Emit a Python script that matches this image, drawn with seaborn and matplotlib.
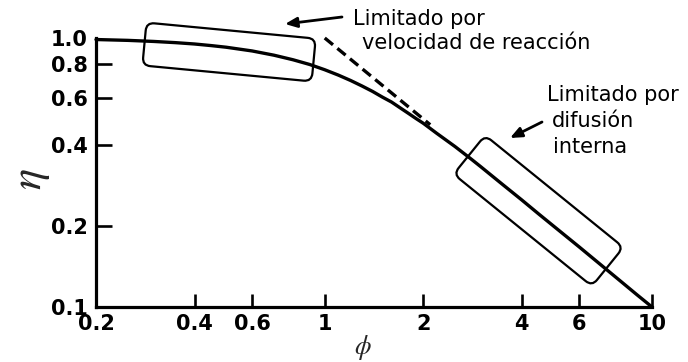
import numpy as np
import matplotlib
matplotlib.use("Agg")
import matplotlib.pyplot as plt
from matplotlib.patches import FancyBboxPatch
from matplotlib.transforms import Affine2D
import seaborn as sns

# Effectiveness factor versus Thiele modulus
phi = [0.2, 0.25, 0.3, 0.35, 0.4, 0.45, 0.5, 0.6, 0.7, 0.8, 0.9, 1.0, 1.1,
       1.2, 1.3, 1.4, 1.5, 1.6, 1.7, 1.8, 1.9, 2.0, 2.2, 2.5, 2.8, 3.0, 3.5,
       4.0, 4.5, 5.0, 6.0, 7.0, 8.0, 9.0, 10.0]
eta = [0.987, 0.980, 0.971, 0.961, 0.950, 0.937, 0.924, 0.895, 0.863,
       0.830, 0.797, 0.762, 0.728, 0.695, 0.663, 0.633, 0.603, 0.578, 0.550,
       0.525, 0.502, 0.482, 0.442, 0.395, 0.355, 0.332, 0.285, 0.250, 0.222,
       0.200, 0.167, 0.143, 0.125, 0.111, 0.100]

# Diffusion-limited asymptote
phi_asym = [1.0, 2.1]
eta_asym = [1.0, 0.476]

x_ticks = [0.2, 0.4, 0.6, 1, 2, 4, 6, 10]
x_labels = ["0.2", "0.4", "0.6", "1", "2", "4", "6", "10"]
y_ticks = [0.1, 0.2, 0.4, 0.6, 0.8, 1.0]
y_labels = ["0.1", "0.2", "0.4", "0.6", "0.8", "1.0"]

sns.set_style("ticks")
plt.rcParams["font.family"] = ["DejaVu Sans"]
plt.rcParams["mathtext.fontset"] = "stix"

W, H = 688, 362
fig = plt.figure(figsize=(W / 100, H / 100), dpi=100)
ax = fig.add_axes([96 / W, (H - 307) / H, (652 - 96) / W, (307 - 38) / H])
ax.set_xscale("log")
ax.set_yscale("log")

sns.lineplot(x=phi, y=eta, ax=ax, color="black", linewidth=2.4,
             sort=False, clip_on=False)
sns.lineplot(x=phi_asym, y=eta_asym, ax=ax, color="black", linewidth=2.4,
             sort=False, dashes=False, clip_on=False)
ax.lines[-1].set_dashes((3.2, 1.7))

ax.set_xlim(0.2, 10)
ax.set_ylim(0.1, 1.0)
ax.xaxis.set_minor_locator(matplotlib.ticker.NullLocator())
ax.yaxis.set_minor_locator(matplotlib.ticker.NullLocator())
ax.set_xticks(x_ticks)
ax.set_xticklabels(x_labels)
ax.set_yticks(y_ticks)
ax.set_yticklabels(y_labels)
ax.tick_params(axis="x", direction="in", length=9.5, width=1.9, pad=5,
               labelsize=15, colors="black")
ax.tick_params(axis="y", direction="in", length=11.5, width=1.9, pad=6,
               labelsize=15, colors="black")
for lab in ax.get_xticklabels() + ax.get_yticklabels():
    lab.set_fontweight("bold")
for t in (ax.yaxis.get_major_ticks()[0], ax.yaxis.get_major_ticks()[-1],
          ax.xaxis.get_major_ticks()[0]):
    t.tick1line.set_visible(False)

for side in ("top", "right"):
    ax.spines[side].set_visible(False)
for side in ("left", "bottom"):
    ax.spines[side].set_linewidth(2.3)
    ax.spines[side].set_color("black")
ax.set_xlabel("")
ax.set_ylabel("")


def px(x, y):
    """Image pixel position (origin top-left) to figure fraction."""
    return x / W, 1 - y / H


# Axis symbols
fig.text(*px(31, 179), r"$\eta$", fontsize=32, rotation=90,
         ha="center", va="center")
fig.text(*px(363, 347), r"$\phi$", fontsize=19, ha="center", va="center")


def region_box(center, width, height, angle):
    cx, cy = ax.transData.transform(center)
    box = FancyBboxPatch((-width / 2, -height / 2), width, height,
                         boxstyle="round,pad=0,rounding_size=8",
                         facecolor="none", edgecolor="black", linewidth=1.6,
                         transform=Affine2D().rotate_deg(angle).translate(cx, cy),
                         clip_on=False)
    fig.patches.append(box)
    box.set_figure(fig)


region_box((0.51, 0.887), 170, 43, -5.4)
region_box((4.5, 0.228), 178, 50, -39.0)

# Labels for the two regimes
txt = dict(fontsize=15, color="black", va="center", ha="left")
fig.text(*px(353, 19), "Limitado por", **txt)
fig.text(*px(362, 43), "velocidad de reacción", **txt)
fig.text(*px(547, 95), "Limitado por", **txt)
fig.text(*px(552, 121), "difusión", **txt)
fig.text(*px(553, 147), "interna", **txt)

arrow = dict(arrowstyle="-|>,head_length=0.7,head_width=0.3", color="black",
             lw=2, shrinkA=0, shrinkB=0)
ax.annotate("", xy=(285, H - 24), xytext=(342, H - 17),
            xycoords="figure pixels", textcoords="figure pixels",
            arrowprops=arrow, annotation_clip=False)
ax.annotate("", xy=(510, H - 138), xytext=(542, H - 122),
            xycoords="figure pixels", textcoords="figure pixels",
            arrowprops=arrow, annotation_clip=False)

fig.savefig("out.png", dpi=100)
